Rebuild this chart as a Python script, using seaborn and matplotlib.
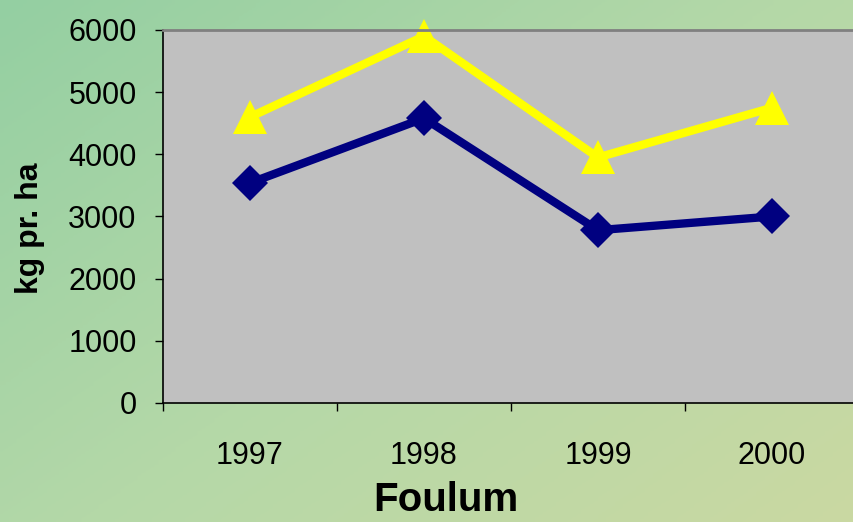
import matplotlib
matplotlib.use("Agg")
import matplotlib.pyplot as plt
from matplotlib.colors import LinearSegmentedColormap
import numpy as np
import pandas as pd
import seaborn as sns

# data
years = ["1997", "1998", "1999", "2000"]
navy_vals = [3540, 4580, 2780, 3000]
yellow_vals = [4600, 5900, 3950, 4750]
y_ticks = [0, 1000, 2000, 3000, 4000, 5000, 6000]

sns.set_style("white")
plt.rcParams["font.family"] = ["Liberation Sans", "DejaVu Sans"]
plt.rcParams["text.color"] = "black"
plt.rcParams["xtick.color"] = "black"
plt.rcParams["ytick.color"] = "black"

fig = plt.figure(figsize=(8.54, 5.22), dpi=100)

# greenish background (plain gradient in place of the marble texture)
bg = fig.add_axes([0, 0, 1, 1], zorder=-10)
gx, gy = np.meshgrid(np.linspace(0, 1, 200), np.linspace(0, 1, 200))
cmap = LinearSegmentedColormap.from_list("bg", ["#94cfa2", "#b4d8a8", "#cad9a2"])
bg.imshow(0.55 * gx + 0.45 * gy, cmap=cmap, aspect="auto", extent=[0, 1, 0, 1], origin="upper")
bg.axis("off")

ax = fig.add_axes([163 / 854, 1 - 403 / 522, 696 / 854, 373 / 522])
ax.set_facecolor("#c0c0c0")

df = pd.DataFrame({
    "pos": list(range(len(years))) * 2,
    "value": navy_vals + yellow_vals,
    "series": ["navy"] * 4 + ["yellow"] * 4,
})

sns.lineplot(data=df[df.series == "navy"], x="pos", y="value", color="#000080",
             linewidth=6, marker="D", markersize=18, markeredgewidth=0, ax=ax, clip_on=False)
sns.lineplot(data=df[df.series == "yellow"], x="pos", y="value", color="#ffff00",
             linewidth=6, marker="^", markersize=25, markeredgewidth=0, ax=ax, clip_on=False)

ax.set_xlim(-0.5, 3.5)
ax.set_ylim(0, 6000)
ax.set_yticks(y_ticks)
ax.set_xticks(range(len(years)))
ax.set_xticklabels(years)
ax.set_xticks([-0.5, 0.5, 1.5, 2.5, 3.5], minor=True)
ax.tick_params(axis="x", which="major", length=0, pad=27, labelsize=22, labelcolor="black")
ax.tick_params(axis="x", which="minor", length=6, width=1, color="black", direction="out", bottom=True)
ax.tick_params(axis="y", length=6, width=1, color="black", direction="out", left=True, pad=13,
               labelsize=22, labelcolor="black")
ax.set_xlabel("")
ax.set_ylabel("")

for s in ["left", "bottom"]:
    ax.spines[s].set_color("black")
    ax.spines[s].set_linewidth(1.2)
ax.spines["top"].set_color("#808080")
ax.spines["top"].set_linewidth(2)
ax.spines["right"].set_visible(False)

fig.text(446 / 854, 1 - 500 / 522, "Foulum", ha="center", va="center",
         fontsize=29, fontweight="bold", color="black")
fig.text(30 / 854, 1 - 228 / 522, "kg pr. ha", ha="center", va="center",
         rotation=90, fontsize=23, fontweight="bold", color="black")

fig.savefig("out.png", dpi=100)
